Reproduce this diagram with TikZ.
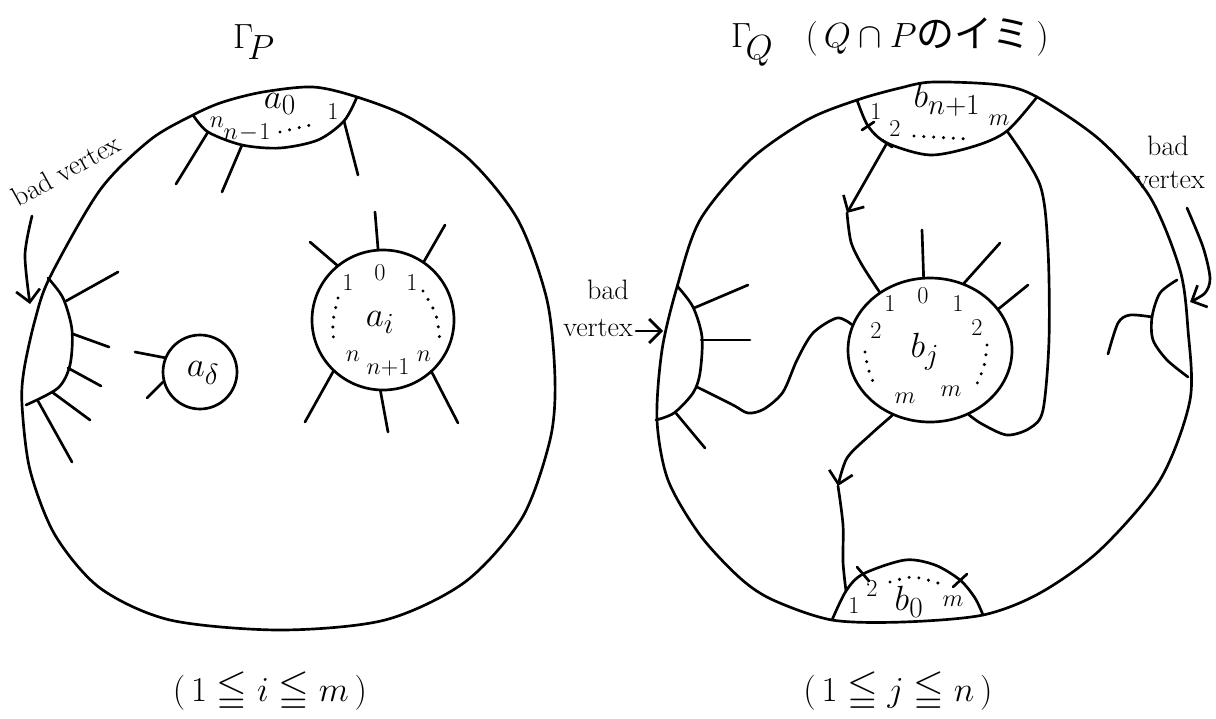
\documentclass[tikz,border=0pt]{standalone}
\usepackage{amssymb}
\usepackage{fontspec}
\newfontfamily\jpfont{Noto Sans CJK JP}
\usetikzlibrary{shapes.geometric,arrows.meta}

\begin{document}
\begin{tikzpicture}[x=0.25mm, y=-0.25mm, line width=1.9pt, line join=round, line cap=round,
    every node/.style={inner sep=0pt},
    disk/.style={draw, ellipse, line width=1.9pt},
    num/.style={font=\fontsize{19}{21}\selectfont},
    vname/.style={font=\fontsize{32}{34}\selectfont},
    ttl/.style={font=\fontsize{38}{42}\selectfont},
    cond/.style={font=\fontsize{28}{30}\selectfont},
    word/.style={font=\fontsize{20}{22}\selectfont, align=left},
    dotline/.style={line width=2.4pt, dash pattern=on 0pt off 7pt},
    barb/.style={-{Straight Barb[length=3mm, width=6mm]}}]
  \useasboundingbox (0,0) rectangle (1216,718);

  % ---------- Gamma_P ----------
  \node[ttl] (titleP) at (254,42) {$\Gamma_{\!P}$};
  \draw plot[smooth cycle] coordinates {(193,115) (150,140) (100,190) (50,277) (35,320)
    (24,370) (22,405) (30,470) (55,535) (100,588) (170,620) (280,630) (385,620) (465,582)
    (522,518) (550,440) (555,380) (547,300) (518,220) (470,160) (410,118) (357,97)
    (313,87) (263,92) (223,102)};

  % a_0 on the boundary
  \coordinate (a0-w) at (193,115);
  \coordinate (a0-e) at (357,97);
  \coordinate (a0-n) at (208,132);
  \coordinate (a0-n1) at (242,145);
  \coordinate (a0-1) at (344,121);
  \draw plot[smooth] coordinates {(a0-w) (a0-n) (a0-n1) (280,148) (318,140) (a0-1) (a0-e)};
  \coordinate (a0-t1) at (176,184);
  \coordinate (a0-t2) at (222,192);
  \coordinate (a0-t3) at (358,175);
  \draw (a0-n) -- (a0-t1);
  \draw (a0-n1) -- (a0-t2);
  \draw plot[smooth] coordinates {(a0-1) (351,148) (a0-t3)};
  \node[vname] (a0) at (280,104) {$a_0$};
  \node[num] (a0ln) at (217,122) {$n$};
  \node[num] (a0ln1) at (247,133) {$n\!-\!1$};
  \node[num] (a0l1) at (333,112) {$1$};
  \draw[dotline] (280,132) -- (315,124);

  % bad vertex on the left
  \coordinate (bvL-n) at (48,278);
  \coordinate (bvL-s) at (26,405);
  \draw plot[smooth] coordinates {(bvL-n) (63,298) (72,330) (70,365) (58,388) (bvL-s)};
  \coordinate (bvL-1) at (66,301);
  \coordinate (bvL-2) at (73,334);
  \coordinate (bvL-3) at (68,368);
  \coordinate (bvL-4) at (52,392);
  \coordinate (bvL-5) at (38,401);
  \draw (bvL-1) -- (118,272);
  \draw (bvL-2) -- (109,347);
  \draw (bvL-3) -- (101,386);
  \draw (bvL-4) -- (90,420);
  \draw (bvL-5) -- (72,462);
  \node[word, rotate=29] (badP) at (66,170) {bad vertex};
  \coordinate (badP-s) at (32,216);
  \coordinate (badP-t) at (30,304);
  \draw[barb] plot[smooth] coordinates {(badP-s) (25,255) (badP-t)};

  % a_i
  \node[disk, minimum width=35.5mm, minimum height=35mm] (ai) at (383,320) {};
  \node[vname] (ailab) at (380,322) {$a_i$};
  \coordinate (ai-e1) at (375,212);
  \coordinate (ai-e2) at (310,242);
  \coordinate (ai-e3) at (445,225);
  \coordinate (ai-e4) at (305,422);
  \coordinate (ai-e5) at (388,432);
  \coordinate (ai-e6) at (458,423);
  \draw (ai.94) -- (ai-e1);
  \draw (ai.130) -- (ai-e2);
  \draw (ai.55) -- (ai-e3);
  \draw (ai.226) -- (ai-e4);
  \draw (ai.268) -- (ai-e5);
  \draw (ai.313) -- (ai-e6);
  \node[num] (ai1a) at (348,283) {$1$};
  \node[num] (ai0) at (380,273) {$0$};
  \node[num] (ai1b) at (412,283) {$1$};
  \node[num] (aina) at (353,356) {$n$};
  \node[num] (ain1) at (388,367) {$n{+}1$};
  \node[num] (ainb) at (424,356) {$n$};
  \draw[dotline] plot[smooth] coordinates {(338,298) (333,322) (334,345)};
  \draw[dotline] plot[smooth] coordinates {(423,291) (436,315) (440,343)};

  % a_delta
  \node[disk, circle, minimum size=18.5mm] (ad) at (200,372) {};
  \node[vname] (adlab) at (203,373) {$a_\delta$};
  \coordinate (ad-e1) at (135,352);
  \coordinate (ad-e2) at (147,398);
  \draw (ad.158) -- (ad-e1);
  \draw (ad.195) -- (ad-e2);

  \node[cond] (condP) at (270,692) {$(\,1\leqq i\leqq m\,)$};

  % ---------- Gamma_Q ----------
  \node[ttl] (titleQ) at (890,42) {$\Gamma_{\!Q}$\ \ $(\,Q\cap P${\jpfont\fontsize{27}{30}\selectfont のイミ}$\,)$};
  \draw plot[smooth cycle] coordinates {(857,100) (807,120) (750,160) (700,220) (677,287)
    (662,350) (657,420) (668,480) (700,535) (740,578) (773,600) (832,620) (903,622)
    (983,615) (1040,593) (1100,550) (1160,480) (1190,400) (1188,330) (1180,270)
    (1150,197) (1100,140) (1037,97) (1000,85) (933,82) (900,88)};

  % b_{n+1} on the boundary
  \coordinate (bn-w) at (857,100);
  \coordinate (bn-e) at (1037,97);
  \coordinate (bn-1) at (868,126);
  \coordinate (bn-2) at (887,143);
  \coordinate (bn-m) at (1007,131);
  \draw plot[smooth] coordinates {(bn-w) (bn-1) (bn-2) (930,155) (975,146) (bn-m) (bn-e)};
  \draw (862,130) -- (874,122);
  \draw (882,140) -- (892,147);
  \node[vname] (bn) at (947,100) {$b_{n+1}$};
  \node[num] (bnl1) at (876,112) {$1$};
  \node[num] (bnl2) at (895,129) {$2$};
  \node[num] (bnlm) at (999,120) {$m$};
  \draw[dotline] (914,136) -- (968,139);

  % b_j
  \node[disk, minimum width=41mm, minimum height=36mm] (bj) at (930,350) {};
  \node[vname] (bjlab) at (925,352) {$b_j$};
  \coordinate (bj-e1) at (922,230);
  \coordinate (bj-e2) at (1000,243);
  \coordinate (bj-e3) at (1028,285);
  \draw (bj.95) -- (bj-e1);
  \draw (bj.63) -- (bj-e2);
  \draw (bj.31) -- (bj-e3);
  \node[num] (bjl1a) at (890,304) {$1$};
  \node[num] (bjl0) at (923,296) {$0$};
  \node[num] (bjl1b) at (958,304) {$1$};
  \node[num] (bjl2a) at (876,331) {$2$};
  \node[num] (bjl2b) at (977,328) {$2$};
  \node[num] (bjlma) at (905,398) {$m$};
  \node[num] (bjlmb) at (951,391) {$m$};
  \draw[dotline] plot[smooth] coordinates {(865,352) (868,368) (874,384)};
  \draw[dotline] plot[smooth] coordinates {(987,345) (984,366) (976,386)};

  % b_0 on the boundary
  \coordinate (b0-w) at (832,620);
  \coordinate (b0-e) at (983,615);
  \coordinate (b0-1) at (846,591);
  \coordinate (b0-2) at (863,574);
  \coordinate (b0-m) at (960,580);
  \draw plot[smooth] coordinates {(b0-w) (b0-1) (b0-2) (905,560) (935,565) (b0-m) (975,598) (b0-e)};
  \draw (857,567) -- (869,581);
  \draw (967,574) -- (953,587);
  \node[vname] (b0) at (909,602) {$b_0$};
  \node[num] (b0l1) at (854,606) {$1$};
  \node[num] (b0l2) at (872,589) {$2$};
  \node[num] (b0lm) at (953,601) {$m$};
  \draw[dotline] plot[smooth] coordinates {(890,582) (913,577) (938,583)};

  % oriented edges
  \coordinate (arr1) at (847,213);
  \coordinate (arr2) at (838,486);
  \draw[barb] (bn-2) -- (arr1);
  \draw plot[smooth] coordinates {(arr1) (851,242) (862,265) (bj.131)};
  \draw[barb] plot[smooth] coordinates {(bj.240) (870,435) (847,458) (arr2)};
  \draw plot[smooth] coordinates {(arr2) (843,525) (843,562) (b0-1)};
  \draw plot[smooth] coordinates {(bj.301) (982,424) (1007,435) (1030,428) (1043,410)
    (1049,340) (1048,250) (1040,185) (bn-m)};

  % bad vertex on the left
  \coordinate (bvQ-n) at (678,287);
  \coordinate (bvQ-s) at (656,420);
  \draw plot[smooth] coordinates {(bvQ-n) (693,307) (702,337) (700,373) (693,393) (674,413) (bvQ-s)};
  \coordinate (bvQ-1) at (694,308);
  \coordinate (bvQ-2) at (701,340);
  \coordinate (bvQ-3) at (697,387);
  \coordinate (bvQ-4) at (675,412);
  \draw (bvQ-1) -- (748,285);
  \draw (bvQ-2) -- (750,340);
  \draw plot[smooth] coordinates {(bvQ-3) (733,405) (748,413) (764,409) (783,392) (797,360)
    (813,333) (837,318) (bj.162)};
  \draw (bvQ-4) -- (705,448);
  \node[word] (badQ1) at (608,290) {bad};
  \node[word] (badQ2) at (598,328) {vertex};
  \coordinate (badQ1-s) at (636,331);
  \coordinate (badQ1-t) at (663,331);
  \draw[barb] (badQ1-s) -- (badQ1-t);

  % bad vertex on the right
  \coordinate (bvR-n) at (1177,280);
  \coordinate (bvR-s) at (1188,377);
  \coordinate (bvR-1) at (1152,317);
  \draw plot[smooth] coordinates {(bvR-n) (1160,293) (bvR-1) (1153,340) (1167,360) (bvR-s)};
  \draw plot[smooth] coordinates {(bvR-1) (1130,315) (1118,323) (1108,354)};
  \node[word] (badR1) at (1168,146) {bad};
  \node[word] (badR2) at (1170,180) {vertex};
  \coordinate (badR-s) at (1187,208);
  \coordinate (badR-t) at (1190,302);
  \draw[barb] plot[smooth] coordinates {(badR-s) (1203,247) (1210,278) (1205,293) (badR-t)};

  \node[cond] (condQ) at (898,692) {$(\,1\leqq j\leqq n\,)$};
\end{tikzpicture}
\end{document}
